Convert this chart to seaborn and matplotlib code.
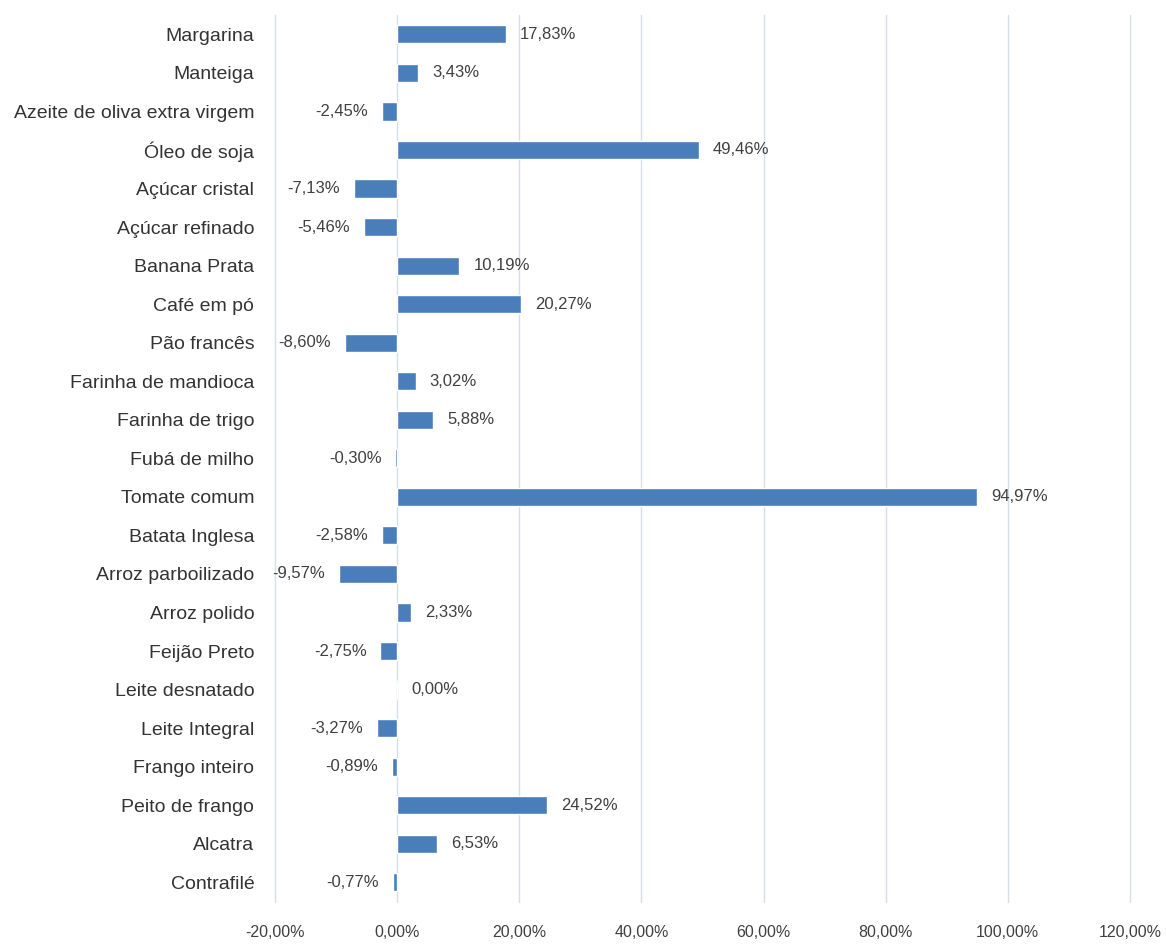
import matplotlib
matplotlib.use("Agg")
import matplotlib.pyplot as plt
import seaborn as sns
import pandas as pd
from matplotlib.ticker import FuncFormatter

# ================================
#  Data (variação de preço por produto)
# ================================
produtos = [
    "Margarina", "Manteiga", "Azeite de oliva extra virgem", "Óleo de soja",
    "Açúcar cristal", "Açúcar refinado", "Banana Prata", "Café em pó",
    "Pão francês", "Farinha de mandioca", "Farinha de trigo", "Fubá de milho",
    "Tomate comum", "Batata Inglesa", "Arroz parboilizado", "Arroz polido",
    "Feijão Preto", "Leite desnatado", "Leite Integral", "Frango inteiro",
    "Peito de frango", "Alcatra", "Contrafilé",
]
variacao = [
    17.83, 3.43, -2.45, 49.46,
    -7.13, -5.46, 10.19, 20.27,
    -8.60, 3.02, 5.88, -0.30,
    94.97, -2.58, -9.57, 2.33,
    -2.75, 0.00, -3.27, -0.89,
    24.52, 6.53, -0.77,
]
x_ticks = [-20, 0, 20, 40, 60, 80, 100, 120]

df = pd.DataFrame({"produto": produtos, "variacao": variacao})


def pct(v):
    return f"{v:.2f}%".replace(".", ",")


sns.set_style("white")
plt.rcParams["font.family"] = ["Liberation Sans", "DejaVu Sans"]

fig = plt.figure(figsize=(11.66, 9.44), dpi=100)
ax = fig.add_axes([0.236, 0.045, 0.733, 0.939])

sns.barplot(data=df, y="produto", x="variacao", orient="h",
            color="#4a7ebb", saturation=1, width=0.47, ax=ax)

# rótulos de valor ao lado das barras
ax.bar_label(ax.containers[0], labels=[pct(v) for v in variacao],
             padding=10, fontsize=12, color="#404040")

ax.set_xlim(x_ticks[0], x_ticks[-1])
ax.set_ylim(len(produtos) - 0.5, -0.5)
ax.set_xticks(x_ticks)
ax.xaxis.set_major_formatter(FuncFormatter(lambda v, _: pct(v)))
ax.set_xlabel("")
ax.set_ylabel("")

ax.grid(axis="x", color="#d5dfea", linewidth=1)
for gl in ax.get_xgridlines():
    gl.set_clip_on(False)
ax.set_axisbelow(True)
for s in ax.spines.values():
    s.set_visible(False)

ax.tick_params(axis="x", length=0, pad=17, labelsize=11.5, labelcolor="#404040")
ax.tick_params(axis="y", length=0, pad=15, labelsize=14, labelcolor="#333333")

fig.savefig("out.png", dpi=100)
